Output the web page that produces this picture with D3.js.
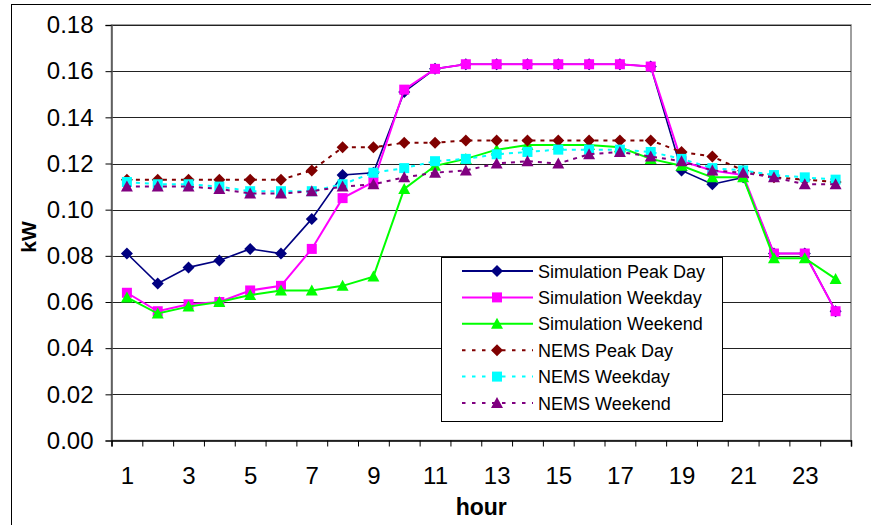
<!DOCTYPE html>
<html><head><meta charset="utf-8">
<script src="https://cdn.jsdelivr.net/npm/d3@7"></script>
<style>
html,body{margin:0;padding:0;background:#fff;}
svg{display:block;font-family:"Liberation Sans",Arial,sans-serif;}
</style></head>
<body>
<svg id="chart" width="871" height="525"></svg>
<script>
const hours = d3.range(1, 25);
const xLabels = [1,3,5,7,9,11,13,15,17,19,21,23];
const yTicks = [0,0.02,0.04,0.06,0.08,0.10,0.12,0.14,0.16,0.18];

const simPeak    = [0.081,0.068,0.075,0.078,0.083,0.081,0.096,0.115,0.116,0.151,0.161,0.163,0.163,0.163,0.163,0.163,0.163,0.162,0.117,0.111,0.114,0.081,0.081,0.056];
const simWeekday = [0.064,0.056,0.059,0.060,0.065,0.067,0.083,0.105,0.112,0.152,0.161,0.163,0.163,0.163,0.163,0.163,0.163,0.162,0.121,0.117,0.115,0.081,0.081,0.056];
const simWeekend = [0.062,0.055,0.058,0.060,0.063,0.065,0.065,0.067,0.071,0.109,0.119,0.122,0.126,0.128,0.128,0.128,0.127,0.122,0.119,0.114,0.114,0.079,0.079,0.070];
const nemsPeak    = [0.113,0.113,0.113,0.113,0.113,0.113,0.117,0.127,0.127,0.129,0.129,0.130,0.130,0.130,0.130,0.130,0.130,0.130,0.125,0.123,0.117,0.114,0.113,0.112];
const nemsWeekday = [0.112,0.111,0.111,0.110,0.108,0.108,0.108,0.111,0.116,0.118,0.121,0.122,0.124,0.125,0.126,0.126,0.126,0.125,0.122,0.118,0.117,0.115,0.114,0.113];
const nemsWeekend = [0.110,0.110,0.110,0.109,0.107,0.107,0.108,0.110,0.111,0.114,0.116,0.117,0.120,0.121,0.120,0.124,0.125,0.123,0.121,0.117,0.116,0.114,0.111,0.111];

const seriesNames = ["Simulation Peak Day","Simulation Weekday","Simulation Weekend","NEMS Peak Day","NEMS Weekday","NEMS Weekend"];
const seriesData = [simPeak, simWeekday, simWeekend, nemsPeak, nemsWeekday, nemsWeekend];
const seriesColors = ["#000080","#FF00FF","#00FF00","#800000","#00FFFF","#800080"];
const seriesMarkers = ["diamond","square","triangle","diamond","square","triangle"];
const seriesDashed = [false,false,false,true,true,true];

const svg = d3.select("#chart");
const L = 111.5, R = 851, T = 25, B = 440.5;
const x = d3.scaleLinear().domain([0.5, 24.5]).range([L, R]);
const y = d3.scaleLinear().domain([0, 0.18]).range([B, T]);

// outer frame
svg.append("rect").attr("x",11.5).attr("y",4.5).attr("width",900).attr("height",600)
  .attr("fill","none").attr("stroke","#000").attr("stroke-width",1);

// plot area border (gray)
svg.append("rect").attr("x",L).attr("y",T).attr("width",R-L).attr("height",B-T)
  .attr("fill","none").attr("stroke","#808080").attr("stroke-width",1.5);

// gridlines
svg.append("g").selectAll("line").data(yTicks.filter(d=>d>0)).join("line")
  .attr("x1",L).attr("x2",R).attr("y1",d=>Math.round(y(d))+0.5).attr("y2",d=>Math.round(y(d))+0.5)
  .attr("stroke","#222").attr("stroke-width",1);

// y axis
const yAxis = d3.axisLeft(y).tickValues(yTicks).tickFormat(d3.format(".2f")).tickSize(6).tickPadding(12);
const gy = svg.append("g").attr("transform",`translate(${L},0)`).call(yAxis);
gy.select(".domain").attr("stroke","#555").attr("stroke-width",1.5);
gy.selectAll(".tick line").attr("stroke","#000");
gy.selectAll("text").attr("font-size",24).attr("fill","#000").attr("font-family","Liberation Sans, Arial, sans-serif");

// x axis: ticks between categories
const bounds = d3.range(0, 25).map(i => i + 0.5);
const xAxisTicks = d3.axisBottom(x).tickValues(bounds).tickFormat("").tickSize(6);
const gx = svg.append("g").attr("transform",`translate(0,${B})`).call(xAxisTicks);
gx.select(".domain").attr("stroke","#000").attr("stroke-width",1.5);
gx.selectAll(".tick line").attr("stroke","#000");
const xAxisLabels = d3.axisBottom(x).tickValues(xLabels).tickFormat(d3.format("d")).tickSize(0).tickPadding(26);
const gxl = svg.append("g").attr("transform",`translate(0,${B})`).call(xAxisLabels);
gxl.select(".domain").remove();
gxl.selectAll("text").attr("font-size",24).attr("fill","#000").attr("font-family","Liberation Sans, Arial, sans-serif");

// axis titles
svg.append("text").attr("x",(L+R)/2).attr("y",515).attr("text-anchor","middle")
  .attr("font-size",23).attr("font-weight","bold").text("hour");
svg.append("text").attr("transform","translate(36,237) rotate(-90)").attr("text-anchor","middle")
  .attr("font-size",21).attr("font-weight","bold").text("kW");

function markerPath(type){
  if(type==="diamond") return "M0,-6L6,0L0,6L-6,0Z";
  if(type==="square") return "M-5,-5H5V5H-5Z";
  return "M0,-6L6,5H-6Z";
}

const line = d3.line().x((d,i)=>x(hours[i])).y(d=>y(d));
const plot = svg.append("g");
seriesData.forEach((vals, si) => {
  const g = plot.append("g");
  g.append("path").datum(vals).attr("d", line).attr("fill","none")
    .attr("stroke", seriesColors[si]).attr("stroke-width", si===0?1.6:2)
    .attr("stroke-dasharray", seriesDashed[si] ? "4,5" : null);
  g.selectAll("path.m").data(vals).join("path").attr("class","m")
    .attr("transform",(d,i)=>`translate(${x(hours[i])},${y(d)})`)
    .attr("d", markerPath(seriesMarkers[si])).attr("fill", seriesColors[si]);
});

// legend
const lg = svg.append("g");
lg.append("rect").attr("x",441.5).attr("y",257.5).attr("width",281).attr("height",164)
  .attr("fill","#fff").attr("stroke","#000").attr("stroke-width",1);
seriesNames.forEach((name, si) => {
  const cy = 271 + si*26.4;
  lg.append("line").attr("x1",462).attr("x2",533).attr("y1",cy).attr("y2",cy)
    .attr("stroke",seriesColors[si]).attr("stroke-width",2)
    .attr("stroke-dasharray", seriesDashed[si] ? "3.5,6.5" : null);
  lg.append("path").attr("transform",`translate(497,${cy})`).attr("d",markerPath(seriesMarkers[si]))
    .attr("fill",seriesColors[si]);
  lg.append("text").attr("x",538).attr("y",cy+6.5).attr("font-size",18).attr("fill","#000").text(name);
});
</script>
</body></html>
